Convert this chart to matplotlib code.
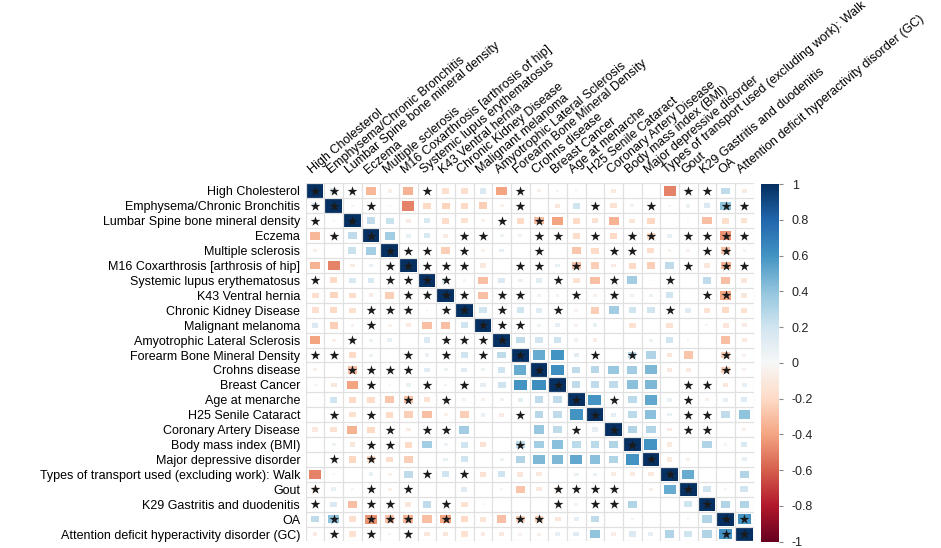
import numpy as np
import matplotlib.pyplot as plt
from matplotlib.patches import Rectangle
from matplotlib import colors, cm

plt.rcParams['font.family'] = ['Liberation Sans', 'DejaVu Sans']

labels = [
    "High Cholesterol",
    "Emphysema/Chronic Bronchitis",
    "Lumbar Spine bone mineral density",
    "Eczema",
    "Multiple sclerosis",
    "M16 Coxarthrosis [arthrosis of hip]",
    "Systemic lupus erythematosus",
    "K43 Ventral hernia",
    "Chronic Kidney Disease",
    "Malignant melanoma",
    "Amyotrophic Lateral Sclerosis",
    "Forearm Bone Mineral Density",
    "Crohns disease",
    "Breast Cancer",
    "Age at menarche",
    "H25 Senile Cataract",
    "Coronary Artery Disease",
    "Body mass index (BMI)",
    "Major depressive disorder",
    "Types of transport used (excluding work): Walk",
    "Gout",
    "K29 Gastritis and duodenitis",
    "OA",
    "Attention deficit hyperactivity disorder (GC)",
]

# lower triangle of the correlation matrix, row i holds columns 0..i-1
lower_vals = [
    [0.15],
    [0.08, -0.02],
    [-0.33, -0.08, 0.25],
    [-0.06, 0.01, 0.22, 0.35],
    [-0.35, -0.5, -0.08, 0.08, 0.08],
    [0.08, -0.2, 0.16, 0.16, 0.08, 0.08],
    [-0.17, -0.22, -0.18, -0.08, -0.25, 0.08, 0.15],
    [-0.17, -0.2, -0.16, 0.08, 0.08, 0.08, -0.03, 0.08],
    [0.15, -0.25, -0.05, 0.08, -0.05, -0.1, -0.3, -0.3, 0.2],
    [-0.4, -0.05, 0.08, 0.05, 0.08, 0.0, 0.15, 0.08, 0.08, 0.08],
    [0.08, 0.08, -0.2, 0.05, 0.0, 0.08, 0.07, 0.08, 0.2, 0.08, 0.25],
    [-0.05, 0.0, -0.3, 0.08, 0.08, 0.08, 0.11, 0.05, 0.12, 0.05, 0.2, 0.5],
    [-0.03, -0.11, -0.4, 0.08, -0.01, 0.07, 0.08, 0.04, 0.08, 0.1, 0.21, 0.6,
     0.62],
    [-0.01, 0.2, -0.2, -0.18, -0.28, -0.3, -0.15, 0.08, -0.05, -0.05, 0.06,
     0.11, 0.25, 0.25],
    [0.0, 0.08, -0.16, 0.08, -0.2, -0.25, -0.3, -0.05, -0.25, 0.08, -0.08,
     0.08, 0.28, 0.25, 0.6],
    [-0.1, -0.15, -0.35, -0.2, 0.08, -0.08, 0.08, 0.08, 0.35, 0.0, 0.01, 0.0,
     0.38, 0.25, 0.08, 0.1],
    [0.0, 0.05, -0.11, 0.08, 0.08, -0.2, 0.35, 0.06, 0.2, -0.15, 0.0, 0.25,
     0.35, 0.42, 0.27, 0.27, 0.3],
    [0.0, 0.08, -0.21, -0.2, -0.18, -0.25, 0.01, 0.07, 0.2, 0.0, 0.05, 0.3,
     0.45, 0.45, 0.52, 0.42, 0.3, 0.6],
    [-0.5, -0.02, 0.0, 0.08, -0.05, 0.25, 0.08, 0.2, 0.08, -0.15, 0.2, -0.12,
     -0.1, 0.0, 0.07, 0.07, -0.08, -0.1, -0.1],
    [-0.12, 0.07, -0.02, 0.08, -0.05, 0.08, 0.0, 0.01, 0.12, 0.0, 0.02, -0.28,
     -0.1, -0.12, 0.08, 0.08, 0.08, 0.0, -0.06, 0.5],
    [0.08, 0.15, -0.3, 0.08, 0.08, -0.12, 0.25, 0.08, -0.15, -0.03, 0.0, 0.0,
     0.0, 0.08, -0.05, 0.08, 0.08, 0.3, 0.0, 0.0, 0.2],
    [0.25, 0.4, -0.17, -0.45, -0.3, -0.35, -0.3, -0.4, -0.2, -0.13, -0.3,
     -0.25, -0.25, -0.12, 0.1, 0.25, 0.0, 0.03, 0.0, 0.0, 0.02, 0.3],
    [-0.08, 0.08, -0.15, 0.08, -0.03, 0.08, -0.12, -0.11, -0.15, -0.08, -0.1,
     -0.05, -0.05, 0.08, 0.12, 0.4, -0.07, 0.15, 0.09, 0.3, 0.2, 0.3, 0.6],
]

# significance marks (*) for the same lower triangle
lower_stars = [
    "1",
    "10",
    "010",
    "0000",
    "00001",
    "100011",
    "0000011",
    "00011101",
    "000100000",
    "0010000111",
    "11000101010",
    "001111000000",
    "0001001010000",
    "00000101000000",
    "010100000001000",
    "0000101100000010",
    "00011000000100000",
    "010100000000000000",
    "0000001010000000000",
    "10010100000001111000",
    "100110010000010110000",
    "0101110100011000000000",
    "01010100000000000000001",
]

cbar_ticks = [1, 0.8, 0.6, 0.4, 0.2, 0, -0.2, -0.4, -0.6, -0.8, -1]

n = len(labels)
corr = np.eye(n)
sig = np.eye(n, dtype=bool)
for i, row in enumerate(lower_vals, start=1):
    for j, v in enumerate(row):
        corr[i, j] = corr[j, i] = v
for i, row in enumerate(lower_stars, start=1):
    for j, c in enumerate(row):
        sig[i, j] = sig[j, i] = (c == "1")

cmap = plt.get_cmap('RdBu')
norm = colors.Normalize(vmin=-1, vmax=1)

fig = plt.figure(figsize=(9.41, 5.48), dpi=100)
ax = fig.add_axes([0.3249, 0.0119, 0.4759, 0.6533])

for i in range(n):
    for j in range(n):
        r = corr[i, j]
        side = np.sqrt(abs(r)) * 0.9
        if side > 0:
            ax.add_patch(Rectangle((j - side / 2, i - side / 2), side, side,
                                   facecolor=cmap(norm(r)), edgecolor='none'))

yy, xx = np.nonzero(sig)
ax.scatter(xx, yy, marker='*', s=55, color='#1a1a1a', linewidths=0, zorder=3)

ax.set_xlim(-0.5, n - 0.5)
ax.set_ylim(n - 0.5, -0.5)
ax.set_xticks(np.arange(-0.5, n), minor=True)
ax.set_yticks(np.arange(-0.5, n), minor=True)
ax.grid(which='minor', color='#e0e0e0', linewidth=0.9)
ax.tick_params(which='both', length=0)
ax.set_xticks([])
ax.set_yticks(range(n))
ax.set_yticklabels(labels, fontsize=9)
ax.tick_params(axis='y', pad=4)
for s in ax.spines.values():
    s.set_visible(False)

# column labels, slanted like the stretched original
for j, lab in enumerate(labels):
    ax.text(j - 0.05, -1.0, lab, rotation=40, rotation_mode='anchor',
            ha='left', va='bottom', fontsize=9, clip_on=False)

cax = fig.add_axes([0.8084, 0.0115, 0.0198, 0.6527])
cb = fig.colorbar(cm.ScalarMappable(norm=norm, cmap=cmap), cax=cax)
cb.outline.set_visible(False)
cb.set_ticks(cbar_ticks)
cb.set_ticklabels([("%g" % t) for t in cbar_ticks])
cax.tick_params(labelsize=9, length=3, color='#888888', labelcolor='#222222',
                pad=6)

fig.savefig('out.png', dpi=100)
